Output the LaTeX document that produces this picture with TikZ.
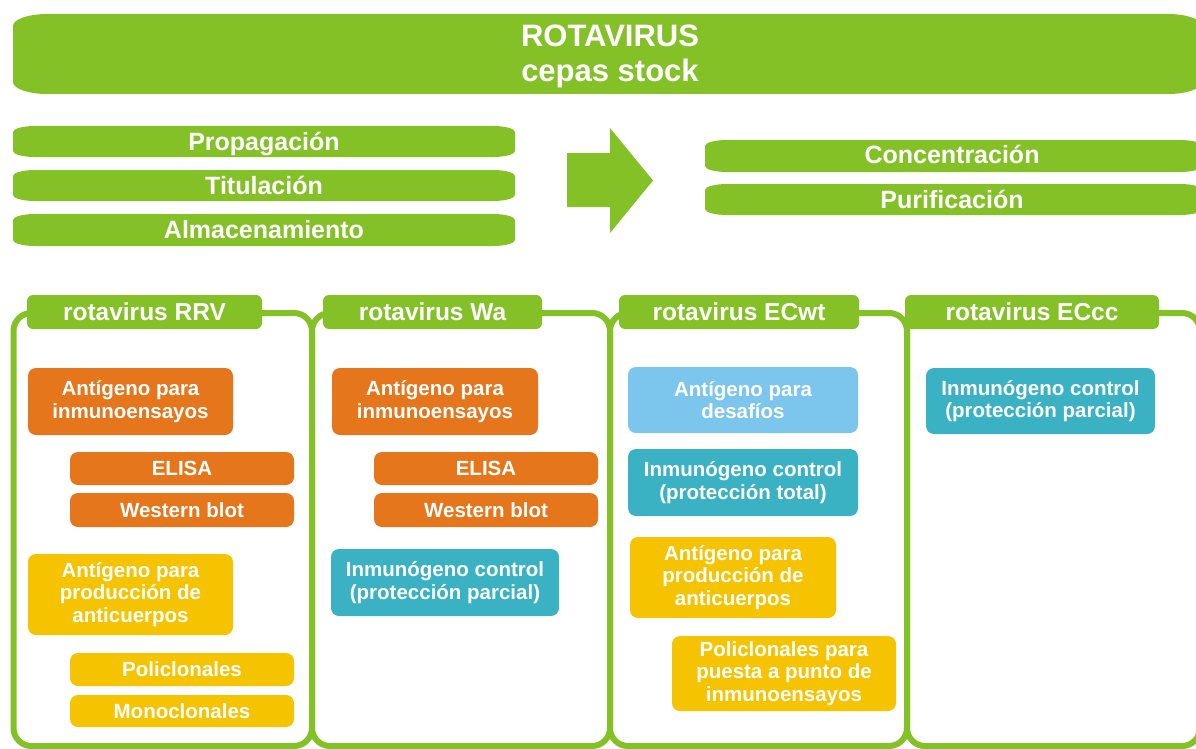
\documentclass[tikz,border=0pt]{standalone}
\usepackage{fontspec}
\setmainfont{Liberation Sans}
\definecolor{vgreen}{HTML}{84C126}
\definecolor{vorange}{HTML}{E5761B}
\definecolor{vyellow}{HTML}{F6C300}
\definecolor{vteal}{HTML}{3AB2C4}
\definecolor{vlblue}{HTML}{7CC6EE}
\tikzset{
  inbox/.style={rounded corners=8pt, inner sep=0pt, align=center, text=white,
    font=\fontsize{20.5}{22.6}\selectfont\bfseries},
  hdr/.style={fill=vgreen, rounded corners=6pt, inner sep=0pt, text=white,
    font=\fontsize{24.5}{26}\selectfont\bfseries},
  barlabel/.style={anchor=base, inner sep=0pt, text=white,
    font=\fontsize{25}{27}\selectfont\bfseries},
  titlelabel/.style={inner sep=0pt, align=center, text=white,
    font=\fontsize{31}{35}\selectfont\bfseries},
  panel/.style={draw=vgreen, line width=6pt, rounded corners=18pt},
}
% elliptical-corner bar: x1,y1,x2,y2,rx,ry
\newcommand\ebar[6]{%
  \fill[vgreen] (#1,{#2+#6}) .. controls (#1,{#2+0.45*#6}) and ({#1+0.45*#5},#2) .. ({#1+#5},#2)
   -- ({#3-#5},#2) .. controls ({#3-0.45*#5},#2) and (#3,{#2+0.45*#6}) .. (#3,{#2+#6})
   -- (#3,{#4-#6}) .. controls (#3,{#4-0.45*#6}) and ({#3-0.45*#5},#4) .. ({#3-#5},#4)
   -- ({#1+#5},#4) .. controls ({#1+0.45*#5},#4) and (#1,{#4-0.45*#6}) .. (#1,{#4-#6}) -- cycle;}
% inner box: name, x1,y1,x2,y2, colour, text
\newcommand\ibox[7]{%
  \node[inbox, fill=#6, minimum width={#4-#2}, minimum height={#5-#3}] (#1)
    at ({(#2+#4)/2},{(#3+#5)/2}) {#7};}
% header: name, x1, x2, text
\newcommand\phead[4]{%
  \node[hdr, minimum width={#3-#2}, minimum height=34] (#1) at ({(#2+#3)/2},312) {#4};}
\begin{document}
\begin{tikzpicture}[x=1pt,y=-1pt]
\useasboundingbox (0,0) rectangle (1196,749);
\fill[white] (0,0) rectangle (1196,749);
\clip (0,0) rectangle (1196,749);

% top banner
\ebar{13}{14}{1202}{94}{34}{12}
\node[titlelabel] (title) at (610,56.5) {ROTAVIRUS\\cepas stock};

% left bars
\ebar{13}{126}{515}{157}{22}{6}
\ebar{13}{170}{515}{201}{22}{6}
\ebar{13}{214}{515}{246}{22}{6}
\node[barlabel] (prop) at (264,150) {Propagación};
\node[barlabel] (titu) at (264,194) {Titulación};
\node[barlabel] (alma) at (264,238) {Almacenamiento};

% arrow
\fill[vgreen] (567,153) -- (610,153) -- (610,128) -- (653,180.5) -- (610,233) -- (610,207) -- (567,207) -- cycle;

% right bars
\ebar{705}{140}{1202}{172}{22}{6}
\ebar{705}{184}{1202}{215}{22}{6}
\node[barlabel] (conc) at (952,164) {Concentración};
\node[barlabel] (puri) at (952,208) {Purificación};

% panels
\draw[panel] (13.5,313) rectangle (312,746);
\draw[panel] (312,313) rectangle (610,746);
\draw[panel] (610,313) rectangle (907,746);
\draw[panel] (907,313) rectangle (1200,746);

% headers
\phead{h1}{27}{262}{rotavirus RRV}
\phead{h2}{323}{542}{rotavirus Wa}
\phead{h3}{619}{859}{rotavirus ECwt}
\phead{h4}{905}{1159}{rotavirus ECcc}

% panel 1
\ibox{a1}{28}{368}{233}{435}{vorange}{Antígeno para\\inmunoensayos}
\ibox{e1}{70}{452}{294}{485}{vorange}{ELISA}
\ibox{w1}{70}{493}{294}{527}{vorange}{Western blot}
\ibox{p1}{28}{554}{233}{635}{vyellow}{Antígeno para\\producción de\\anticuerpos}
\ibox{pol1}{70}{653}{294}{686}{vyellow}{Policlonales}
\ibox{mon1}{70}{695}{294}{727}{vyellow}{Monoclonales}

% panel 2
\ibox{a2}{332}{368}{538}{435}{vorange}{Antígeno para\\inmunoensayos}
\ibox{e2}{374}{452}{598}{485}{vorange}{ELISA}
\ibox{w2}{374}{493}{598}{527}{vorange}{Western blot}
\ibox{i2}{331}{549}{559}{616}{vteal}{Inmunógeno control\\(protección parcial)}

% panel 3
\ibox{d3}{628}{367}{858}{433}{vlblue}{Antígeno para\\desafíos}
\ibox{t3}{628}{449}{858}{516}{vteal}{Inmunógeno control\\(protección total)}
\ibox{p3}{630}{537}{836}{618}{vyellow}{Antígeno para\\producción de\\anticuerpos}
\ibox{pp3}{672}{636}{896}{711}{vyellow}{Policlonales para\\puesta a punto de\\inmunoensayos}

% panel 4
\ibox{i4}{926}{368}{1155}{434}{vteal}{Inmunógeno control\\(protección parcial)}
\end{tikzpicture}
\end{document}
